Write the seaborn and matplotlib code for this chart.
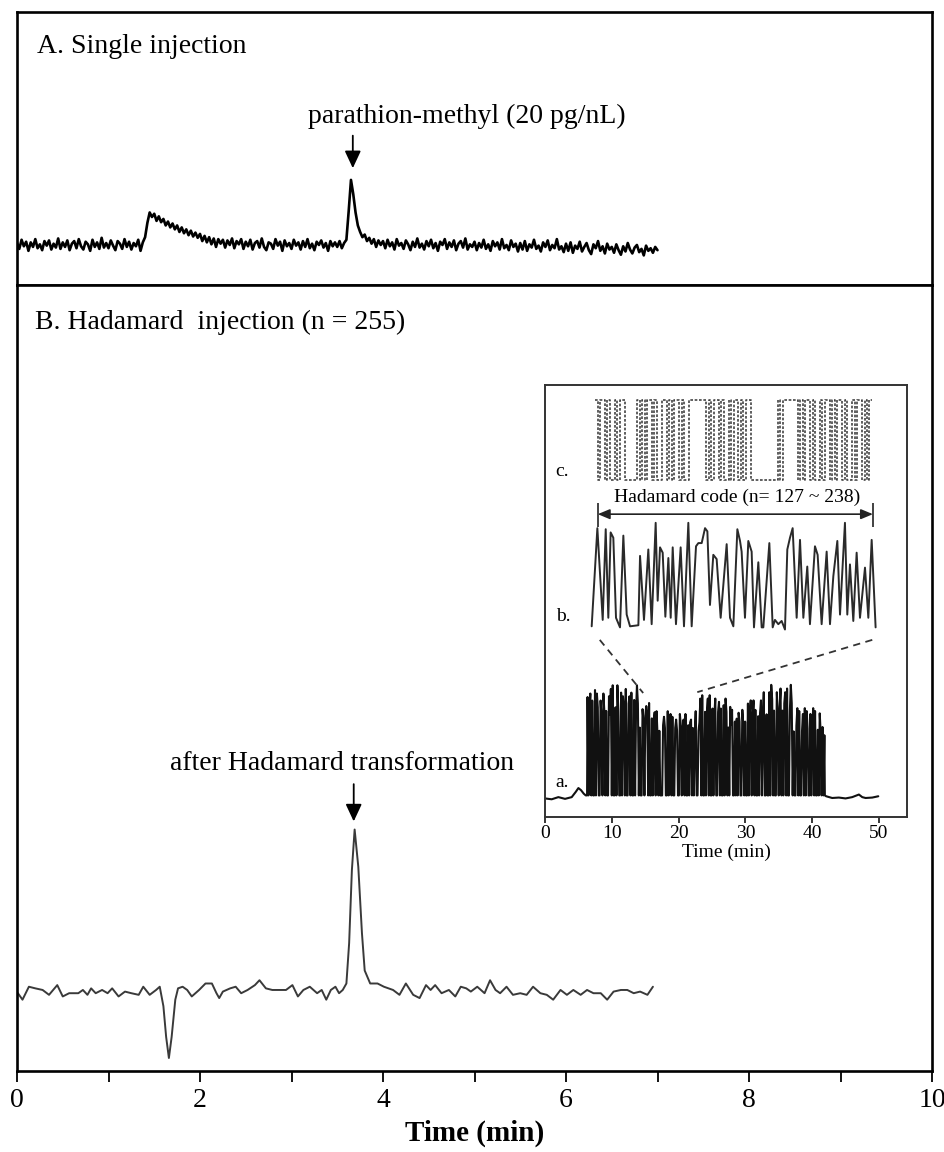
import numpy as np
import pandas as pd
import matplotlib
matplotlib.use("Agg")
import matplotlib.pyplot as plt
import seaborn as sns

# ---------------- data ----------------
# Panel A: single injection, detector signal (a.u.) sampled every 0.025 min from 0 to 7 min
single_step = 0.025
single_signal = [
    3, -6, 8, -2, 5, -9, 4, -3, 9, -5, 1, -8, 6, -1, 7, -7, 2, -4, 10, -6,
    4, -3, 7, -8, 2, 6, -5, 9, -2, -7, 5, 1, -9, 8, -3, 4, -6, 11, -4, 3,
    -5, 7, -1, -8, 6, 2, -6, 9, -3, 5, -7, 3, -2, 8, -9, 4, 12, 34, 50, 43,
    48, 37, 44, 35, 40, 30, 36, 27, 33, 24, 30, 20, 27, 18, 24, 15, 22, 13, 19, 11,
    17, 6, 14, 4, 12, 1, 10, -3, 9, 2, 8, -4, 7, 0, 10, -5, 6, 1, 9, -6,
    5, -2, 8, -7, 3, 6, -4, 10, -3, -8, 4, 2, -6, 9, -1, 5, -9, 7, -2, 3,
    -6, 8, -1, 4, -7, 6, -3, 9, -5, 2, -8, 5, 0, 7, -4, 3, -9, 6, -2, 4,
    -3, 6, -5, 3, 8, 52, 100, 78, 50, 30, 20, 12, 16, 6, 11, 2, 9, -3, 7, 0,
    6, -5, 8, -2, 4, -7, 9, -1, 3, -6, 7, 1, -8, 5, -3, 10, -4, 2, -7, 6,
    -2, 8, -5, 3, -9, 5, 0, 9, -6, 4, -3, 7, -8, 2, 6, -4, 10, -7, 1, -3,
    5, -8, 3, -4, 8, -6, 1, -9, 6, -2, 4, -7, 9, -5, 0, -8, 7, -3, 2, -10,
    3, -7, 6, -9, 1, -4, 8, -6, -1, -10, 4, -3, 7, -8, 0, -5, 9, -7, -2, -11,
    2, -9, 4, -12, -1, -6, 5, -10, -3, 3, -8, -14, 1, -5, 6, -9, -2, -13, 2, -7,
    -3, -12, 1, -8, -15, -2, -10, 3, -7, -13, -4, 0, -11, -6, -16, -1, -9, -5, -12, -3, -8,
]

# Panel B: after Hadamard transformation
hadamard_t = [
    0.01, 0.06, 0.13, 0.20, 0.28, 0.35, 0.44, 0.50, 0.57, 0.67, 0.72, 0.77, 0.81, 0.86, 0.93,
    0.99, 1.04, 1.11, 1.18, 1.25, 1.33, 1.38, 1.45, 1.52, 1.56, 1.60, 1.63, 1.66, 1.69, 1.73,
    1.76, 1.81, 1.86, 1.91, 1.99, 2.06, 2.13, 2.18, 2.21, 2.25, 2.33, 2.39, 2.45, 2.52, 2.60,
    2.65, 2.72, 2.79, 2.86, 2.94, 3.01, 3.07, 3.13, 3.20, 3.28, 3.33, 3.38, 3.43, 3.48, 3.52,
    3.56, 3.60, 3.63, 3.66, 3.69, 3.73, 3.77, 3.80, 3.86, 3.94, 4.01, 4.11, 4.18, 4.25, 4.33,
    4.40, 4.47, 4.52, 4.57, 4.64, 4.72, 4.79, 4.85, 4.91, 4.96, 5.03, 5.11, 5.17, 5.23, 5.28,
    5.35, 5.42, 5.50, 5.57, 5.64, 5.72, 5.79, 5.86, 5.94, 6.01, 6.08, 6.16, 6.23, 6.30, 6.38,
    6.45, 6.52, 6.60, 6.67, 6.74, 6.81, 6.89, 6.95,
]
hadamard_signal = [
    -2, -6, 2, 1, 0, -3, 3, -4, -2, -2, 0, -3, 1, -2, 0,
    -2, 1, -4, -1, -2, -3, 2, -3, 0, 2, -10, -29, -42, -29, -6,
    1, 2, 0, -4, 0, 4, 4, -2, -5, -1, 1, 2, -2, 0, 3,
    6, 1, 0, 0, 0, 3, -4, 0, 2, -2, 0, -6, 0, 2, -2,
    0, 4, 29, 74, 99, 76, 35, 12, 4, 4, 2, 0, -3, 4, -3,
    -5, 3, 0, 3, -2, 0, -4, 2, 1, -1, 2, -2, 6, 0, -2,
    2, -3, -2, -3, 2, -2, -3, -6, 0, -3, 0, -3, 0, -2, -2,
    -6, -1, 0, 0, -2, -1, -3, 2,
]

# Inset, trace c: Hadamard code elements n = 127 ~ 238
code_c = ("101101001011" "00000" "1010110100110101101001" "111111"
          "0101101001011010110" "0000000000" "101" "11111"
          "010110100101101011010010110101")
code_c_span = (7.5, 48.95)

# Inset, trace b: detector signal over the code window (relative intensity 0-100)
trace_b_t = [
    6.99, 7.84, 8.64, 9.09, 9.48, 9.83, 10.23, 10.63, 11.23, 11.73, 12.23, 12.73, 13.98, 14.23,
    14.82, 15.47, 15.97, 16.57, 16.87, 17.22, 17.62, 18.02, 18.47, 18.82, 19.12, 19.61, 20.31,
    20.81, 21.46, 21.96, 22.61, 22.96, 23.46, 23.96, 24.31, 24.70, 25.20, 25.70, 26.30, 27.20,
    27.70, 28.20, 28.80, 29.20, 29.44, 29.94, 30.44, 30.94, 31.29, 31.94, 32.44, 32.69, 33.59,
    34.09, 34.43, 34.93, 35.43, 35.93, 36.28, 36.68, 37.08, 37.68, 38.18, 38.68, 39.27, 39.67,
    40.42, 40.82, 41.42, 42.17, 42.67, 43.17, 43.77, 44.17, 44.91, 45.26, 45.66, 46.16, 46.66,
    47.16, 47.91, 48.41, 48.91, 49.50,
]
trace_b_val = [
    3, 95, 9, 94, 11, 91, 86, 11, 2, 88, 14, 3, 4, 69,
    9, 75, 5, 100, 27, 77, 72, 12, 67, 11, 77, 5, 77,
    3, 100, 3, 78, 81, 81, 95, 92, 23, 70, 66, 11, 80,
    11, 3, 94, 83, 73, 11, 83, 73, 2, 63, 2, 2, 81,
    2, 9, 5, 8, 0, 75, 86, 95, 11, 84, 11, 59, 5,
    78, 70, 5, 73, 5, 50, 83, 14, 100, 14, 61, 8, 72,
    11, 58, 11, 84, 2,
]

# Inset, trace a: full Hadamard-injection record (n = 255)
code_a = ("1011010010110011" "0110100111010010" "1100101101001101" "0010111010011011"
          "1010010110110100" "0111001011010011" "1001101101001011" "0101100111010010"
          "1101001011001101" "0010110101110010" "1011001101001011" "0110100101101100"
          "1001011010011011" "0101101001110100" "1101001101011001" "011010010110101")
# relative height (0-9) of each code element's response
height_a = ("7948265193847261" "5839274618592736" "9284716358294617" "3857294618273958"
            "6192847365918274" "8473619258471936" "2958473618294756" "7381946258391746"
            "4829175638294715" "9361847259381647" "5274918364728159" "8391627485913726"
            "1847395628471938" "6294718352947186" "3958261749382617" "729481635928471")
code_a_span = (6.3, 41.9)
code_a_low = 5.0
env_a_t = [6.3, 9, 14, 16.7, 23.2, 27.2, 30.2, 32.7, 37.2, 40.7]
env_a_top = [29.4, 30.5, 26.4, 24.5, 28.2, 25.5, 27.0, 30.6, 25.2, 24.0]
pre_a_t = [0.0, 1.0, 2.0, 3.0, 4.0, 4.6, 5.0, 5.4, 5.8, 6.1]
pre_a_v = [4.3, 4.1, 4.6, 4.2, 4.6, 5.8, 6.7, 6.2, 5.4, 5.0]
post_a_t = [42.1, 43.0, 44.0, 45.0, 46.0, 47.0, 47.5, 48.0, 49.0, 49.9]
post_a_v = [4.8, 4.4, 4.5, 4.3, 4.6, 5.2, 4.6, 4.4, 4.5, 4.8]

main_ticks = [0, 2, 4, 6, 8, 10]
inset_ticks = [0, 10, 20, 30, 40, 50]

# ---------------- style ----------------
sns.set_theme(style="white", rc={"axes.edgecolor": "black", "text.color": "black",
                                 "xtick.color": "black", "axes.labelcolor": "black"})
plt.rcParams["font.family"] = ["Liberation Serif", "DejaVu Serif"]

W, H = 945, 1152
fig = plt.figure(figsize=(W / 100, H / 100), dpi=100)
fig.patch.set_facecolor("white")

def rect(x0, y0, x1, y1):
    return [x0 / W, 1 - y1 / H, (x1 - x0) / W, (y1 - y0) / H]

axA = fig.add_axes(rect(17, 12, 932, 285))
axB = fig.add_axes(rect(17, 285, 932, 1071))
axI = fig.add_axes(rect(545, 385, 907, 817))

for ax in (axA, axB):
    for s in ax.spines.values():
        s.set_linewidth(1.9)
        s.set_color("black")
    ax.set_xlim(0, 10)
    ax.set_yticks([])

# ---- Panel A ----
tA = np.arange(len(single_signal)) * single_step
sns.lineplot(x=tA, y=single_signal, ax=axA, color="black", lw=1.9,
             estimator=None, sort=False)
axA.set_ylim(-61.5, 358)
axA.set_xticks([])
axA.set_xlabel("")
axA.text(0.022, 0.872, "A. Single injection", transform=axA.transAxes,
         ha="left", va="center", fontsize=20)
axA.text(4.92, 197, "parathion-methyl (20 pg/nL)", ha="center", va="center", fontsize=20)
axA.annotate("", xy=(3.67, 118), xytext=(3.67, 168),
             arrowprops=dict(arrowstyle="-|>,head_length=0.75,head_width=0.35",
                             color="black", lw=1.3, mutation_scale=14,
                             shrinkA=0, shrinkB=0))

# ---- Panel B ----
sns.lineplot(x=hadamard_t, y=hadamard_signal, ax=axB, color="#3a3a3a", lw=1.4,
             estimator=None, sort=False)
axB.set_ylim(-50, 435)
axB.set_xticks(main_ticks)
axB.set_xticks([1, 3, 5, 7, 9], minor=True)
axB.tick_params(axis="x", which="both", direction="out", length=8, width=1.3,
                bottom=True, labelsize=20, pad=4)
axB.set_xlabel("Time (min)", fontsize=21, fontweight="bold", labelpad=5)
axB.text(0.0197, 0.953, "B. Hadamard  injection (n = 255)", transform=axB.transAxes,
         ha="left", va="center", fontsize=20)
axB.text(3.55, 140, "after Hadamard transformation", ha="center", va="center", fontsize=20)
axB.annotate("", xy=(3.68, 104), xytext=(3.68, 127),
             arrowprops=dict(arrowstyle="-|>,head_length=0.75,head_width=0.35",
                             color="black", lw=1.3, mutation_scale=14,
                             shrinkA=0, shrinkB=0))

# ---- Inset ----
axI.set_facecolor("white")
for s in axI.spines.values():
    s.set_linewidth(1.4)
    s.set_color("#333333")
axI.set_xlim(0, 54.2)
axI.set_ylim(0, 100)
axI.set_yticks([])
axI.set_xticks(inset_ticks)
axI.tick_params(axis="x", direction="out", length=4, width=1.1, bottom=True,
                labelsize=14, pad=2)
axI.set_xlabel("Time (min)", fontsize=14, labelpad=1)

# trace a
bits_a = np.array([int(c) for c in code_a])
hts_a = np.array([int(c) for c in height_a])
n_a = len(bits_a)
el_t = code_a_span[0] + (np.arange(n_a) + 0.5) * (code_a_span[1] - code_a_span[0]) / n_a
tops = np.array(env_a_top)[np.searchsorted(env_a_t, el_t, side="right") - 1]
el_v = code_a_low + bits_a * (tops - code_a_low) * (0.7 + 0.0333 * hts_a)
a_t = np.concatenate([pre_a_t, [code_a_span[0]], el_t, [code_a_span[1]], post_a_t])
a_v = np.concatenate([pre_a_v, [code_a_low], el_v, [code_a_low], post_a_v])
sns.lineplot(x=a_t, y=a_v, ax=axI, color="#111111", lw=1.5, estimator=None, sort=False)

# trace b (stacked above a)
b_offset, b_scale = 43.4, 0.247
sns.lineplot(x=trace_b_t, y=b_offset + b_scale * np.array(trace_b_val), ax=axI,
             color="#2a2a2a", lw=1.4, estimator=None, sort=False)

# trace c (stacked above b)
c_low, c_high = 78.0, 96.5
bits_c = np.array([int(c) for c in code_c])
c_edges = np.linspace(code_c_span[0], code_c_span[1], len(bits_c) + 1)
c_vals = c_low + np.append(bits_c, bits_c[-1]) * (c_high - c_low)
axI.plot(c_edges, c_vals, drawstyle="steps-post", color="#444444", lw=1.2,
         linestyle=(0, (1.6, 1.0)))

# window arrow + label
axI.annotate("", xy=(49.1, 70.1), xytext=(7.9, 70.1),
             arrowprops=dict(arrowstyle="<|-|>,head_length=0.6,head_width=0.25",
                             color="#222222", lw=1.2, mutation_scale=12,
                             shrinkA=0, shrinkB=0))
axI.vlines([7.9, 49.1], 67.1, 72.7, color="#222222", lw=1.2)
axI.text(28.8, 74.0, "Hadamard code (n= 127 ~ 238)", ha="center", va="center", fontsize=14)

# zoom guide lines
axI.plot([8.2, 14.7], [41.0, 28.7], color="#333333", lw=1.3, linestyle=(0, (4, 3)))
axI.plot([49.0, 22.8], [41.0, 28.9], color="#333333", lw=1.3, linestyle=(0, (4, 3)))

axI.text(1.6, 8.1, "a.", ha="left", va="center", fontsize=14)
axI.text(1.6, 46.3, "b.", ha="left", va="center", fontsize=14)
axI.text(1.6, 80.0, "c.", ha="left", va="center", fontsize=14)

fig.savefig("out.png", dpi=100, facecolor="white")
